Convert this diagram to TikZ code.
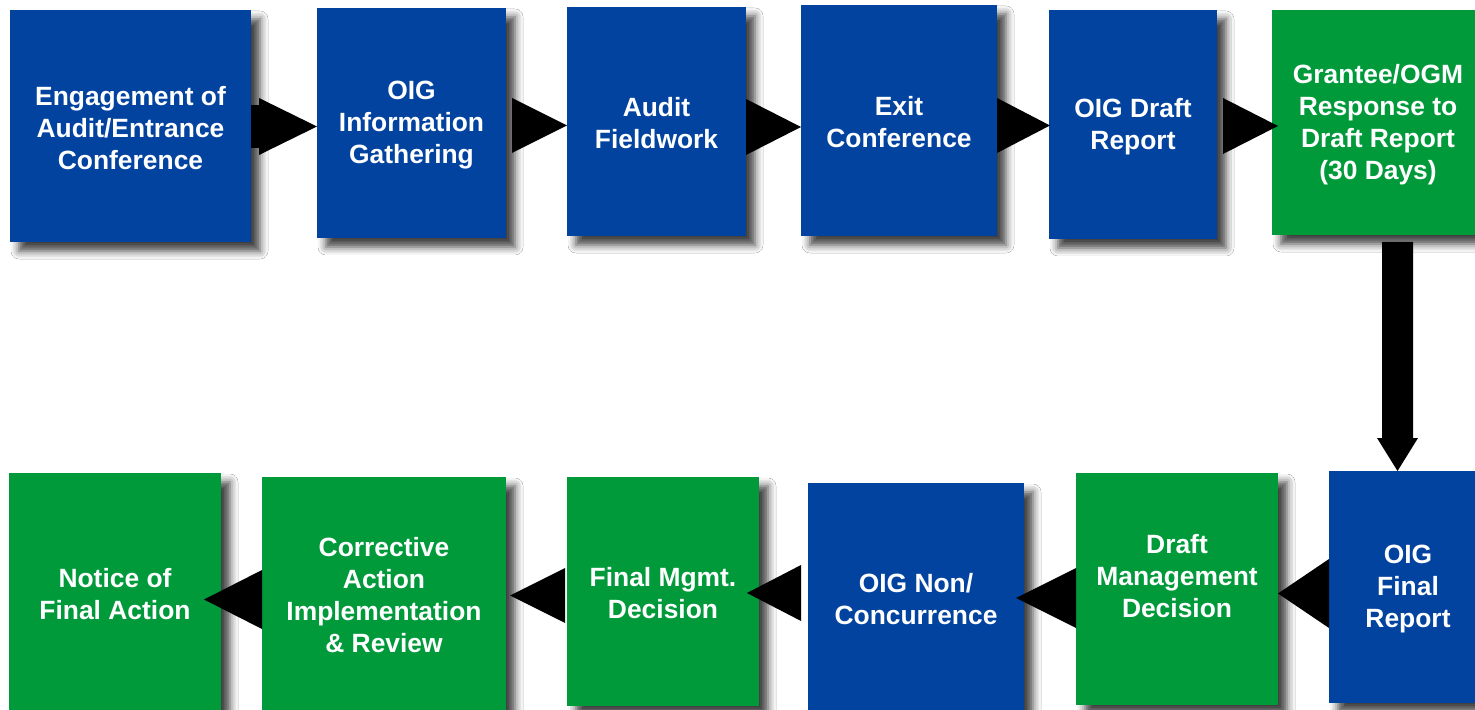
\documentclass[tikz,border=0pt]{standalone}
\usepackage{fontspec}
\setmainfont{Liberation Sans}
\usetikzlibrary{fit,shadows.blur,calc}
\definecolor{oigblue}{RGB}{2,67,159}
\definecolor{oiggreen}{RGB}{0,154,59}
\begin{document}
\begin{tikzpicture}[x=0.5pt,y=-0.5pt,
  box/.style={inner sep=0pt, outer sep=0pt,
    blur shadow={shadow xshift=4.5pt, shadow yshift=-4.5pt, shadow blur radius=4pt, shadow opacity=75}},
  bluebox/.style={box, fill=oigblue},
  greenbox/.style={box, fill=oiggreen},
  lbl/.style={text=white, align=center, inner sep=0pt, yshift=-1pt,
    font=\bfseries\fontsize{13.2}{16}\selectfont},
  arrowfill/.style={fill=black}]
\fill[white] (0,0) rectangle (1475,710);
\useasboundingbox (0,0) rectangle (1475,710);
% top row
\node[bluebox, fit={(10,10) (251,242)}, label={[lbl]center:Engagement of\\Audit/Entrance\\Conference}] (e1) {};
\node[bluebox, fit={(317,8) (506,238)}, label={[lbl]center:OIG\\Information\\Gathering}] (e2) {};
\node[bluebox, fit={(567,7) (746,236)}, label={[lbl]center:Audit\\Fieldwork}] (e3) {};
\node[bluebox, fit={(801,5) (997,236)}, label={[lbl]center:Exit\\Conference}] (e4) {};
\node[bluebox, fit={(1049,10) (1217,239)}, label={[lbl]center:OIG Draft\\Report}] (e5) {};
\node[greenbox, fit={(1272,10) (1484,235)}, label={[lbl]center:Grantee/OGM\\Response to\\Draft Report\\(30 Days)}] (e6) {};
% bottom row
\node[bluebox, fit={(1329,471) (1487,703)}, label={[lbl]center:OIG\\Final\\Report}] (b7) {};
\node[greenbox, fit={(1076,473) (1278,705)}, label={[lbl,yshift=7.5pt]center:Draft\\Management\\Decision}] (b8) {};
\node[bluebox, fit={(808,483) (1024,711)}, label={[lbl]center:OIG Non/\\Concurrence}] (b9) {};
\node[greenbox, fit={(567,477) (759,706)}, label={[lbl]center:Final Mgmt.\\Decision}] (b10) {};
\node[greenbox, fit={(262,477) (506,710)}, label={[lbl]center:Corrective\\Action\\Implementation\\\& Review}] (b11) {};
\node[greenbox, fit={(9,473) (221,712)}, label={[lbl]center:Notice of\\Final Action}] (b12) {};
% top arrows
\fill[arrowfill] (e1.east |- 0,105) rectangle (259,148);
\fill[arrowfill] (259,98) -- (e2.west |- 0,126.5) -- (259,155) -- cycle;
\coordinate (a23) at ([xshift=3pt]e2.east);
\fill[arrowfill] (a23 |- 0,98) -- (e3.west |- 0,125.5) -- (a23 |- 0,153) -- cycle;
\fill[arrowfill] (e3.east |- 0,99) -- (e4.west |- 0,127) -- (e3.east |- 0,155) -- cycle;
\coordinate (a45) at ([xshift=0.5pt]e5.west);
\fill[arrowfill] (e4.east |- 0,98) -- (a45 |- 0,125.5) -- (e4.east |- 0,153) -- cycle;
\coordinate (a56) at ([xshift=3pt]e5.east);
\coordinate (t56) at ([xshift=3pt]e6.west);
\fill[arrowfill] (a56 |- 0,98) -- (t56 |- 0,126) -- (a56 |- 0,154) -- cycle;
% down arrow
\coordinate (dstart) at (1397.5,242);
\coordinate (dtip) at (dstart |- b7.north);
\fill[arrowfill] ($(dstart)+(-15.5,0)$) -- ($(dstart)+(15.5,0)$) -- ($(dtip)+(15.5,-33)$)
  -- ($(dtip)+(20.5,-33)$) -- (dtip) -- ($(dtip)+(-20.5,-33)$) -- ($(dtip)+(-15.5,-33)$) -- cycle;
% bottom arrows
\fill[arrowfill] (b7.west |- 0,559) -- (b8.east |- 0,593.5) -- (b7.west |- 0,628) -- cycle;
\coordinate (t89) at ([xshift=-4pt]b9.east);
\fill[arrowfill] (b8.west |- 0,568) -- (t89 |- 0,598) -- (b8.west |- 0,628) -- cycle;
\coordinate (a910) at ([xshift=-3.5pt]b9.west);
\coordinate (t910) at ([xshift=-6pt]b10.east);
\fill[arrowfill] (a910 |- 0,565) -- (t910 |- 0,593) -- (a910 |- 0,621) -- cycle;
\coordinate (a1011) at ([xshift=-1pt]b10.west);
\coordinate (t1011) at ([xshift=2pt]b11.east);
\fill[arrowfill] (a1011 |- 0,568) -- (t1011 |- 0,595.5) -- (a1011 |- 0,623) -- cycle;
\coordinate (t1112) at ([xshift=-8.5pt]b12.east);
\fill[arrowfill] (b11.west |- 0,570) -- (t1112 |- 0,599.5) -- (b11.west |- 0,629) -- cycle;
\end{tikzpicture}
\end{document}
